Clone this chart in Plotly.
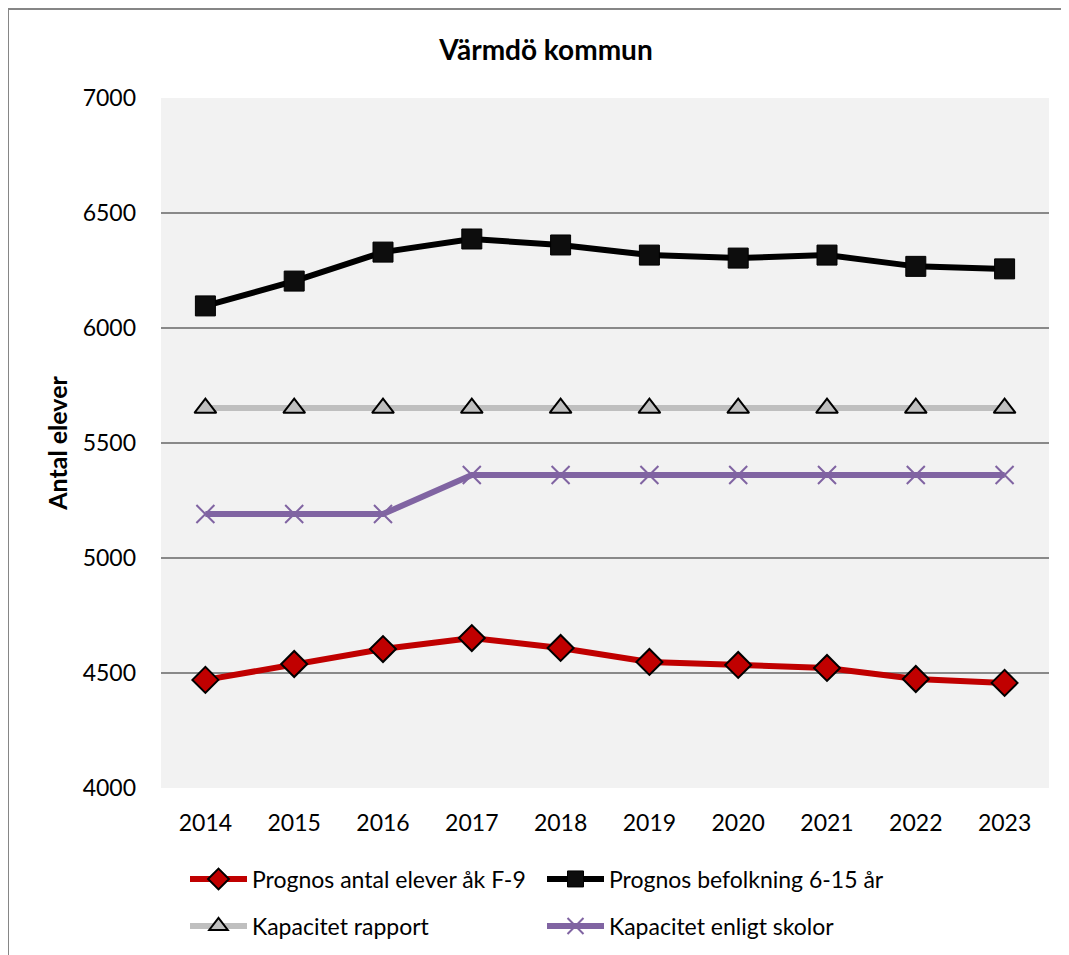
import plotly.graph_objects as go

years = ["2014", "2015", "2016", "2017", "2018", "2019", "2020", "2021", "2022", "2023"]
elever = [4470, 4539, 4604, 4652, 4609, 4548, 4535, 4522, 4474, 4457]
befolkning = [6096, 6204, 6330, 6387, 6361, 6317, 6304, 6317, 6268, 6257]
kap_rapport = [5652] * 10
kap_skolor = [5191, 5191, 5191, 5361, 5361, 5361, 5361, 5361, 5361, 5361]

names = ["Prognos antal elever åk F-9", "Prognos befolkning 6-15 år",
         "Kapacitet rapport", "Kapacitet enligt skolor"]

FONT = "Lato"
fig = go.Figure()
fig.add_trace(go.Scatter(x=years, y=kap_skolor, name=names[3], mode="lines+markers",
                         line=dict(color="#8064A2", width=6),
                         marker=dict(symbol="x-thin-open", size=18, color="#8064A2",
                                     line=dict(color="#8064A2", width=2)),
                         legend="legend2", legendrank=2))
fig.add_trace(go.Scatter(x=years, y=kap_rapport, name=names[2], mode="lines+markers",
                         line=dict(color="#BFBFBF", width=6),
                         marker=dict(symbol="triangle-up", size=19, color="#BFBFBF",
                                     line=dict(color="#000000", width=2)),
                         legend="legend2", legendrank=1))
fig.add_trace(go.Scatter(x=years, y=befolkning, name=names[1], mode="lines+markers",
                         line=dict(color="#000000", width=6),
                         marker=dict(symbol="square", size=20, color="#0D0D0D",
                                     line=dict(color="#000000", width=1)),
                         legend="legend", legendrank=2))
fig.add_trace(go.Scatter(x=years, y=elever, name=names[0], mode="lines+markers",
                         line=dict(color="#C00000", width=6),
                         marker=dict(symbol="diamond", size=20, color="#C00000",
                                     line=dict(color="#000000", width=2)),
                         legend="legend", legendrank=1))

OFF = 8  # page offset of the figure inside the browser window
W, H = 1069 - OFF, 955 - OFF
# plot area in window pixels: x 161..1049, y 98..788
L, R, T, B = 161 - OFF, 1069 - 1049, 98 - OFF, 955 - 788
pw, ph = W - L - R, H - T - B

def px_x(px):
    return (px - OFF - L) / pw

def px_y(py):
    return (H - B - (py - OFF)) / ph

legend_common = dict(orientation="h", entrywidth=285, entrywidthmode="pixels",
                     itemwidth=57, font=dict(family=FONT, size=23, color="#000000"),
                     bgcolor="rgba(0,0,0,0)", xanchor="left", yanchor="middle",
                     traceorder="normal", itemclick=False)

fig.update_layout(
    width=W, height=H,
    margin=dict(l=L, r=R, t=T, b=B, autoexpand=False),
    paper_bgcolor="#FFFFFF",
    plot_bgcolor="#F2F2F2",
    font=dict(family=FONT, size=23, color="#000000"),
    title=dict(text="<b>Värmdö kommun</b>", x=(546 - OFF) / W, xanchor="center",
               y=1 - (50 - OFF) / H, yanchor="middle", xref="container",
               font=dict(family=FONT, size=28, color="#000000")),
    xaxis=dict(type="category", range=[-0.5, 9.5], showgrid=False, zeroline=False,
               showline=False, ticks="", ticklabelstandoff=19,
               tickfont=dict(family=FONT, size=23)),
    yaxis=dict(range=[4000, 7000], dtick=500, tick0=4000, showgrid=True,
               gridcolor="#898989", gridwidth=2, zeroline=False, showline=False,
               ticks="", ticklabelstandoff=24, tickfont=dict(family=FONT, size=23),
               title=dict(text="<b>Antal elever</b>", standoff=7,
                          font=dict(family=FONT, size=25))),
    legend=dict(x=px_x(185), y=px_y(879), **legend_common),
    legend2=dict(x=px_x(185), y=px_y(926), **legend_common),
    shapes=[dict(type="rect", xref="paper", yref="paper",
                 x0=px_x(8), x1=px_x(1080), y0=px_y(970), y1=px_y(9),
                 line=dict(color="#868686", width=2), fillcolor="rgba(0,0,0,0)",
                 layer="below")],
)

fig.write_html("out.html")
